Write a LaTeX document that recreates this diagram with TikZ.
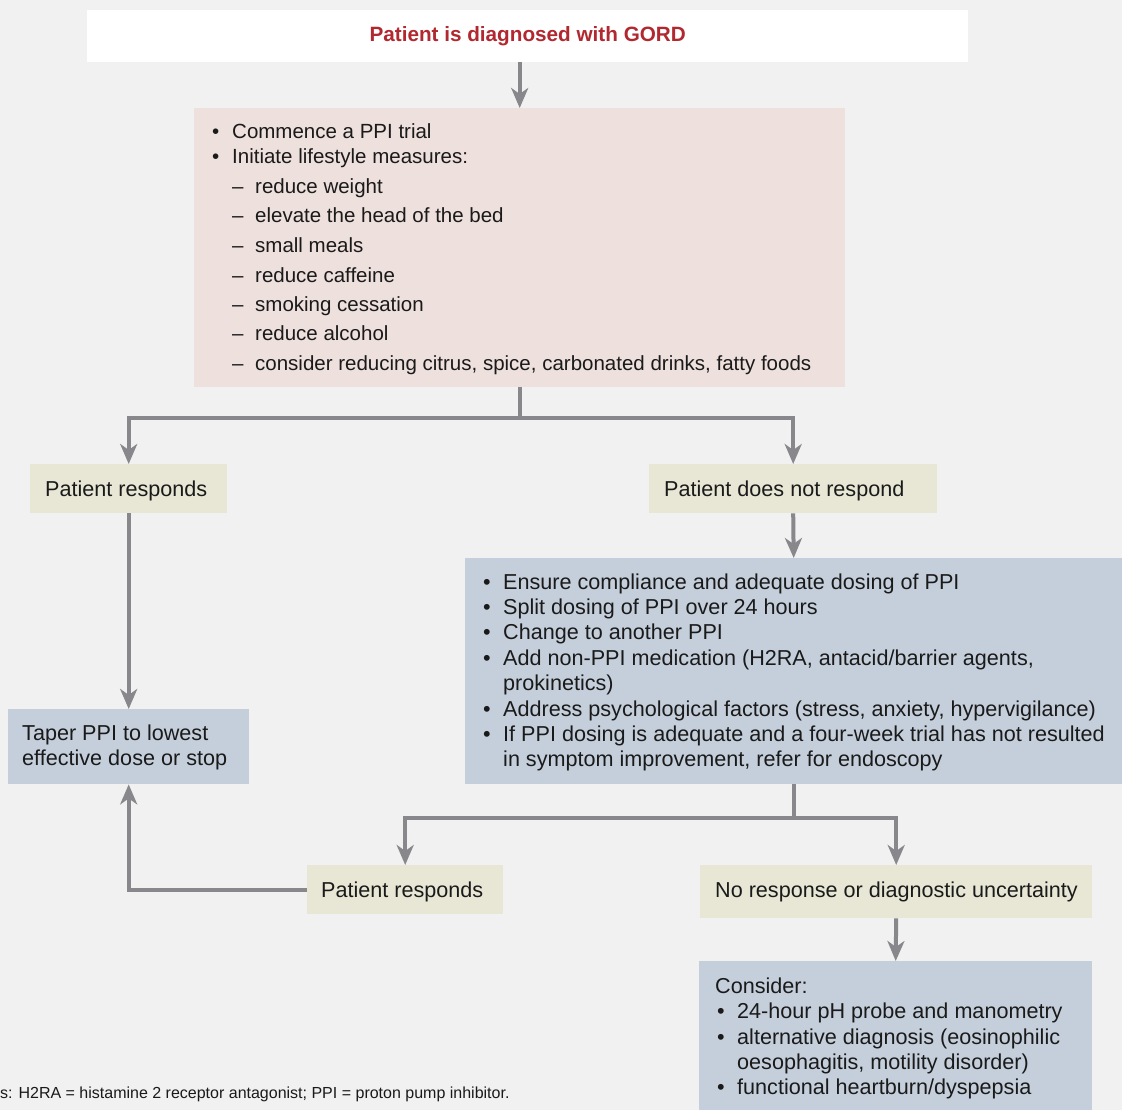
\documentclass[tikz,border=0pt]{standalone}
\usepackage{fontspec}
\setmainfont{Liberation Sans}
\usetikzlibrary{arrows.meta}
\definecolor{bg}{HTML}{F1F1F1}
\definecolor{pinkb}{HTML}{EEE0DC}
\definecolor{blueb}{HTML}{C5CFDB}
\definecolor{beige}{HTML}{E8E7D6}
\definecolor{redt}{HTML}{B22830}
\definecolor{linec}{HTML}{88888C}
\definecolor{txt}{HTML}{1A1A1A}
\begin{document}
\begin{tikzpicture}[x=1pt,y=-1pt,
  box/.style={draw=none, inner sep=0pt, anchor=north west},
  tx/.style={anchor=base west, inner sep=0pt, font=\fontsize{21.6}{26}\selectfont, text=txt},
  ptx/.style={tx, font=\fontsize{20.5}{24}\selectfont},
  conn/.style={draw=linec, line width=4pt},
  arr/.style={conn, -{Stealth[length=20pt,width=17pt,inset=6pt]}}]
\fill[bg] (0,0) rectangle (1122,1110);
\useasboundingbox (0,0) rectangle (1122,1110);
% boxes
\node[box, fill=white, minimum width=881pt, minimum height=52pt] (top) at (87,10) {};
\node[box, fill=pinkb, minimum width=651pt, minimum height=279pt] (life) at (194,108) {};
\node[box, fill=beige, minimum width=197pt, minimum height=49pt] (resp1) at (30,464) {};
\node[box, fill=beige, minimum width=288pt, minimum height=49pt] (nresp) at (649,464) {};
\node[box, fill=blueb, minimum width=657pt, minimum height=226pt] (steps) at (465,558) {};
\node[box, fill=blueb, minimum width=241pt, minimum height=75pt] (taper) at (8,709) {};
\node[box, fill=beige, minimum width=196pt, minimum height=49pt] (resp2) at (307,865) {};
\node[box, fill=beige, minimum width=392pt, minimum height=53pt] (noresp) at (700,865) {};
\node[box, fill=blueb, minimum width=393pt, minimum height=149pt] (cons) at (699,961) {};
% texts
\node[font=\bfseries\fontsize{20.7}{24}\selectfont, text=redt, inner sep=0pt] (toptext) at (top.center) {Patient is diagnosed with GORD};
\node[ptx] (lb1) at (212,139) {•}; \node[ptx] (lt1) at (232,139) {Commence a PPI trial};
\node[ptx] (lb2) at (212,164) {•}; \node[ptx] (lt2) at (232,164) {Initiate lifestyle measures:};
\foreach \y/\t [count=\i] in {194/reduce weight, 223/elevate the head of the bed, 252/small meals, 282/reduce caffeine, 311/smoking cessation, 340/reduce alcohol, 370/{consider reducing citrus, spice, carbonated drinks, fatty foods}}{
  \node[ptx] (ld\i) at (232,\y) {–};
  \node[ptx] (ls\i) at (255,\y) {\t};
}
\node[tx] (r1t) at (45,496) {Patient responds};
\node[tx] (nrt) at (664,496) {Patient does not respond};
\foreach \y/\t [count=\i] in {589/Ensure compliance and adequate dosing of PPI, 614/Split dosing of PPI over 24 hours, 639/Change to another PPI, 665/{Add non-PPI medication (H2RA, antacid/barrier agents,}, 716/{Address psychological factors (stress, anxiety, hypervigilance)}, 741/If PPI dosing is adequate and a four-week trial has not resulted}{
  \node[tx] (sb\i) at (483,\y) {•};
  \node[tx] (st\i) at (503,\y) {\t};
}
\node[tx] (st7) at (503,690) {prokinetics)};
\node[tx] (st8) at (503,766) {in symptom improvement, refer for endoscopy};
\node[tx] (tt1) at (22,740) {Taper PPI to lowest};
\node[tx] (tt2) at (22,765) {effective dose or stop};
\node[tx] (r2t) at (321,897) {Patient responds};
\node[tx] (nrt2) at (715,897) {No response or diagnostic uncertainty};
\node[tx] (ct0) at (715,993) {Consider:};
\node[tx] (cb1) at (717,1018) {•}; \node[tx] (ct1) at (737,1018) {24-hour pH probe and manometry};
\node[tx] (cb2) at (717,1044) {•}; \node[tx] (ct2) at (737,1044) {alternative diagnosis (eosinophilic};
\node[tx] (ct3) at (737,1069) {oesophagitis, motility disorder)};
\node[tx] (cb4) at (717,1094) {•}; \node[tx] (ct4) at (737,1094) {functional heartburn/dyspepsia};
\node[tx, font=\fontsize{16}{18}\selectfont] (foot) at (0,1098) {s: H2RA = histamine 2 receptor antagonist; PPI = proton pump inhibitor.};
% connectors
\draw[arr] (top.south -| life.north) -- (life.north);
\draw[conn] (life.south) -- (life.south |- 0,418) coordinate (j1);
\draw[arr] (j1) -| (resp1.north);
\draw[arr] (j1) -| (nresp.north);
\draw[arr] (nresp.south) -- (steps.north);
\draw[arr] (resp1.south) -- (taper.north);
\draw[conn] (steps.south) -- (steps.south |- 0,818) coordinate (j2);
\draw[arr] (j2) -| (resp2.north);
\draw[arr] (j2) -| (noresp.north);
\draw[arr] (resp2.west) -| (taper.south);
\draw[arr] (noresp.south) -- (cons.north);
\end{tikzpicture}
\end{document}
